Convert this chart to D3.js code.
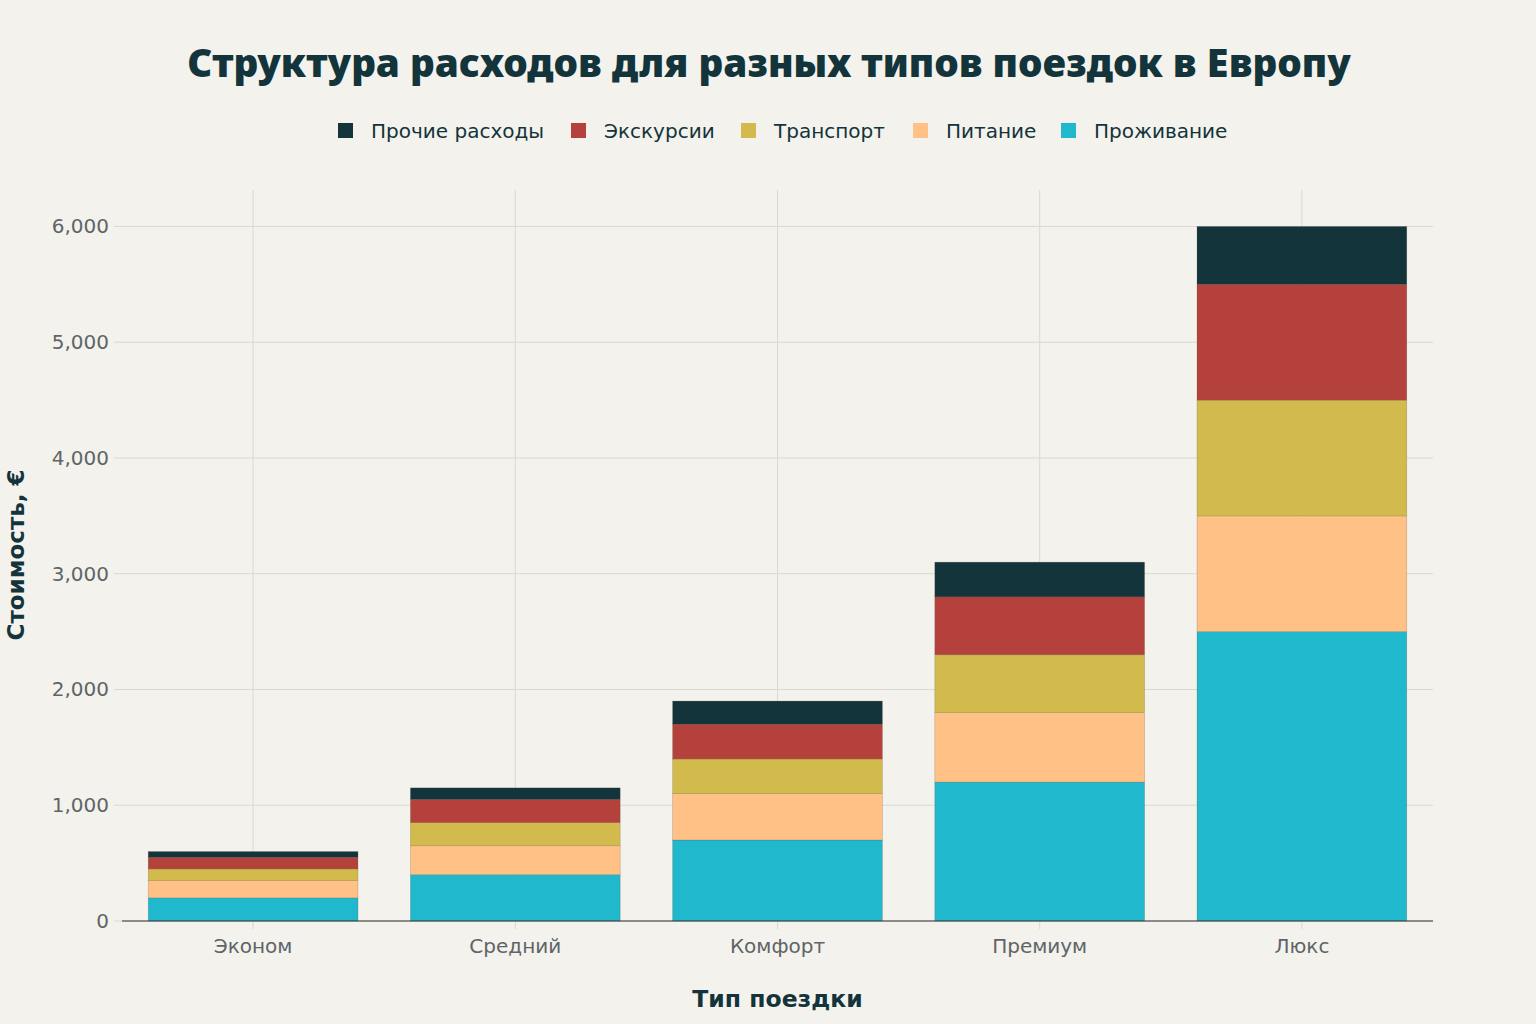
<!DOCTYPE html>
<html><head><meta charset="utf-8">
<script src="https://cdn.jsdelivr.net/npm/d3@7"></script>
<style>
html,body{margin:0;padding:0;background:#F3F2EC;}
svg{display:block;}
</style></head>
<body>
<svg id="c" width="1536" height="1024"></svg>
<script>
const categories = ["Эконом","Средний","Комфорт","Премиум","Люкс"];
const seriesNames = ["Проживание","Питание","Транспорт","Экскурсии","Прочие расходы"];
const accommodation = [200,400,700,1200,2500];
const food = [150,250,400,600,1000];
const transport = [100,200,300,500,1000];
const excursions = [100,200,300,500,1000];
const other = [50,100,200,300,500];
const yTicks = [0,1000,2000,3000,4000,5000,6000];
const colors = ["#1FB8CD","#FFC185","#D2BA4C","#B4413C","#13343B"];
const legendOrder = ["Прочие расходы","Экскурсии","Транспорт","Питание","Проживание"];

const seriesValues = [accommodation, food, transport, excursions, other];
const rows = categories.map((c,i)=>{
  const r = {cat:c};
  seriesNames.forEach((s,j)=>r[s]=seriesValues[j][i]);
  return r;
});
const stacked = d3.stack().keys(seriesNames)(rows);

const svg = d3.select("#c");
const W=1536,H=1024;
const m = {l:122, r:103, t:190, b:103};
const x = d3.scaleBand().domain(categories).range([m.l, W-m.r]).paddingInner(0.2).paddingOuter(0.1);
const y = d3.scaleLinear().domain([0,6315]).range([H-m.b, m.t]);
const color = d3.scaleOrdinal().domain(seriesNames).range(colors);

// grid
const g = svg.append("g");
g.selectAll(".hg").data(yTicks).join("line")
  .attr("x1",m.l-8).attr("x2",W-m.r)
  .attr("y1",d=>y(d)).attr("y2",d=>y(d))
  .attr("stroke","#D9D8D2").attr("stroke-width",1);
g.selectAll(".vg").data(categories).join("line")
  .attr("x1",d=>x(d)+x.bandwidth()/2).attr("x2",d=>x(d)+x.bandwidth()/2)
  .attr("y1",m.t).attr("y2",H-m.b+8)
  .attr("stroke","#D9D8D2").attr("stroke-width",1);

// bars
svg.append("g").selectAll("g").data(stacked).join("g")
  .attr("fill",d=>color(d.key))
  .selectAll("rect").data(d=>d).join("rect")
  .attr("x",d=>x(d.data.cat))
  .attr("width",x.bandwidth())
  .attr("y",d=>y(d[1]))
  .attr("height",d=>y(d[0])-y(d[1]))
  .attr("stroke","rgba(90,80,60,0.35)").attr("stroke-width",0.6);

// zero line
svg.append("line").attr("x1",m.l).attr("x2",W-m.r)
  .attr("y1",y(0)).attr("y2",y(0)).attr("stroke","#333").attr("stroke-width",1.2);

// y tick labels
const tickFont = "'DejaVu Sans', sans-serif";
svg.append("g").selectAll("text").data(yTicks).join("text")
  .attr("x",m.l-13).attr("y",d=>y(d)).attr("dy","0.35em")
  .attr("text-anchor","end").attr("font-family",tickFont).attr("font-size",20)
  .attr("fill","#5F6468").text(d=>d3.format(",")(d));

// x tick labels
svg.append("g").selectAll("text").data(categories).join("text")
  .attr("x",d=>x(d)+x.bandwidth()/2).attr("y",H-m.b+25).attr("dy","0.35em")
  .attr("text-anchor","middle").attr("font-family",tickFont).attr("font-size",20)
  .attr("fill","#5F6468").text(d=>d);

// axis titles
svg.append("text").attr("x",(m.l+W-m.r)/2).attr("y",999).attr("dy","0.35em")
  .attr("text-anchor","middle").attr("font-family","'DejaVu Sans', sans-serif").attr("font-weight","bold")
  .attr("font-size",23.5).attr("fill","#13343B").text("Тип поездки");
svg.append("text").attr("transform","translate(16,555) rotate(-90)").attr("dy","0.35em")
  .attr("text-anchor","middle").attr("font-family","'DejaVu Sans', sans-serif").attr("font-weight","bold")
  .attr("font-size",23).attr("fill","#13343B").text("Стоимость, €");

// title
const title = svg.append("text").attr("x",769).attr("y",63).attr("dy","0.35em")
  .attr("text-anchor","middle").attr("font-family","'Noto Sans', sans-serif").attr("font-weight",900)
  .attr("font-size",36).attr("fill","#13343B").text("Структура расходов для разных типов поездок в Европу");
const tw = title.node().getComputedTextLength();
title.attr("font-size", 36*1164/tw);

// legend
const legX = [338, 571, 741, 913, 1061];
const lg = svg.append("g").selectAll("g").data(legendOrder).join("g")
  .attr("transform",(d,i)=>`translate(${legX[i]},131)`);
lg.append("rect").attr("x",0).attr("y",-8).attr("width",15).attr("height",15).attr("fill",d=>color(d));
lg.append("text").attr("x",33).attr("y",0).attr("dy","0.35em")
  .attr("font-family","'DejaVu Sans', sans-serif").attr("font-size",20).attr("fill","#13343B").text(d=>d);
</script>
</body></html>
